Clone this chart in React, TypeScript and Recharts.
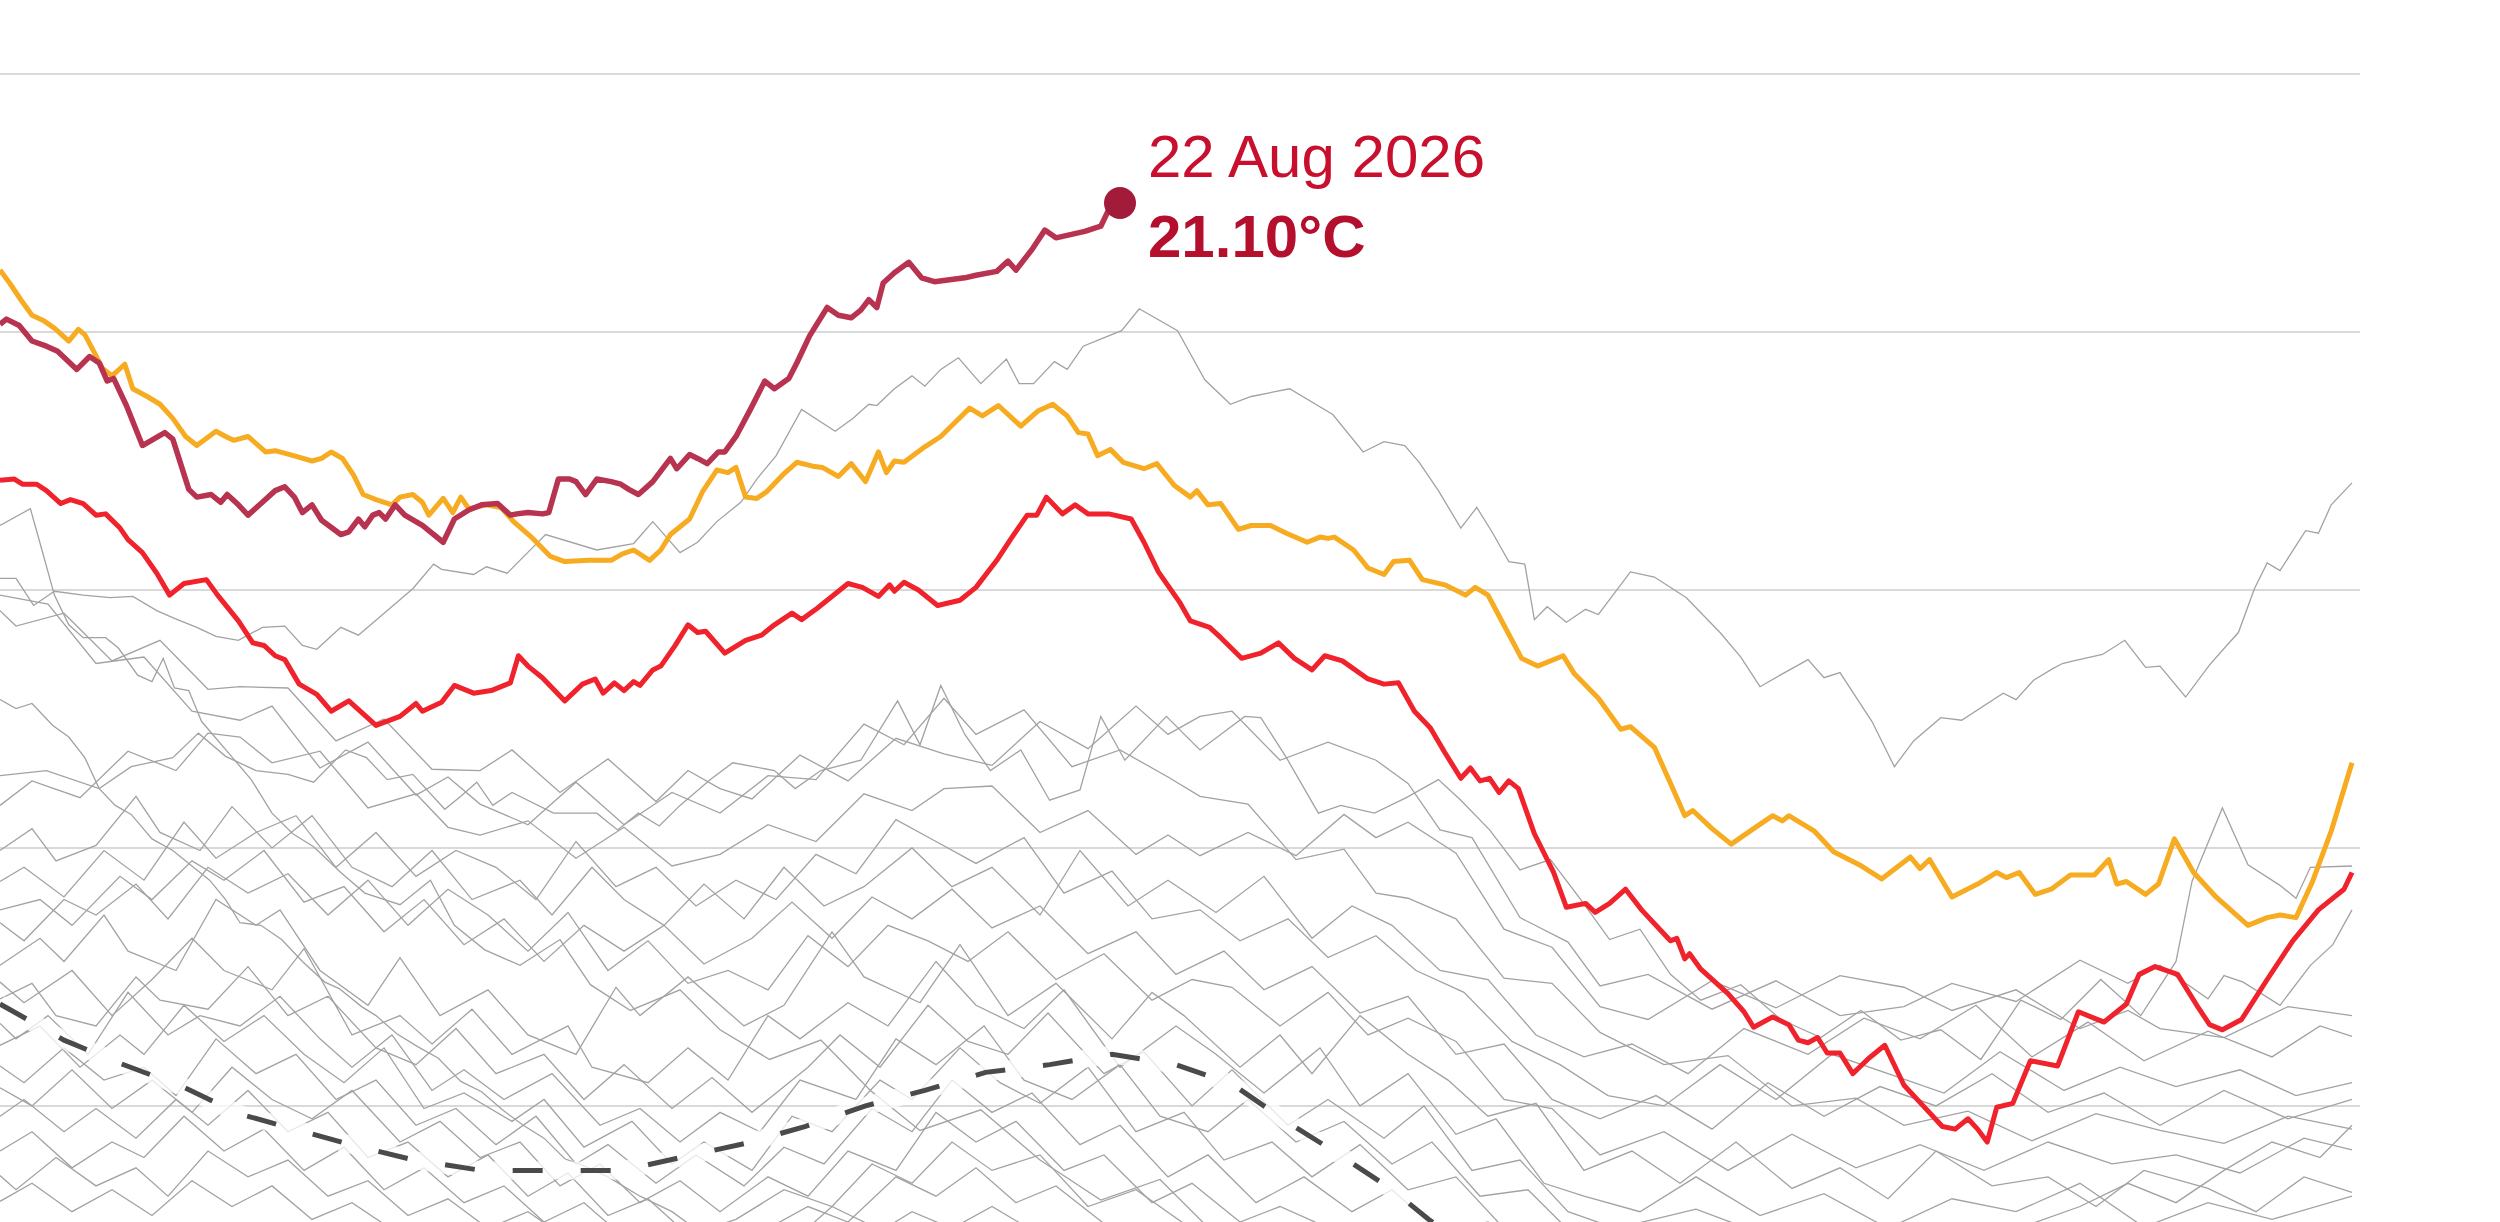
import React from 'react';
import { LineChart, Line, XAxis, YAxis, ReferenceLine } from 'recharts';

type P = [number, number];

// x = day index in the visible window, y = temperature (°C)
const gridValues = [20.4, 20.6, 20.8, 21.0, 21.2];
const lastDateLabel = '22 Aug 2026';
const lastValueLabel = '21.10°C';

const year2026: P[] = [[0,21.006],[0.4,21.010],[1.2,21.005],[2,20.993],[2.9,20.989],[3.6,20.985],[4.8,20.971],[5.6,20.981],[6.2,20.976],[6.7,20.962],[7.1,20.964],[7.9,20.943],[8.9,20.912],[9.6,20.917],[10.3,20.922],[10.8,20.917],[11.8,20.878],[12.3,20.872],[13.2,20.874],[13.8,20.868],[14.2,20.874],[14.9,20.866],[15.5,20.858],[16.4,20.868],[17.2,20.877],[17.8,20.880],[18.4,20.872],[18.9,20.860],[19.5,20.866],[20.1,20.854],[21.3,20.843],[21.8,20.845],[22.4,20.855],[22.8,20.849],[23.3,20.858],[23.7,20.860],[24.1,20.855],[24.7,20.866],[25.3,20.858],[26.4,20.850],[27.7,20.837],[28.4,20.855],[29.3,20.862],[30.1,20.866],[31.1,20.867],[31.9,20.858],[32.3,20.859],[33,20.860],[33.9,20.859],[34.3,20.860],[34.9,20.886],[35.6,20.886],[36,20.884],[36.6,20.874],[37.3,20.886],[38.2,20.884],[38.8,20.882],[39.3,20.878],[39.9,20.874],[40.8,20.884],[41.9,20.902],[42.3,20.894],[43.1,20.905],[43.6,20.902],[44.2,20.898],[44.9,20.907],[45.3,20.907],[46,20.919],[46.9,20.940],[47.8,20.962],[48.4,20.956],[49.3,20.964],[49.8,20.976],[50.6,20.997],[51.7,21.019],[52.4,21.013],[53.2,21.011],[53.8,21.017],[54.3,21.025],[54.8,21.019],[55.2,21.038],[55.9,21.046],[56.8,21.054],[57.6,21.042],[58.4,21.039],[60.3,21.042],[61,21.044],[62.3,21.047],[63,21.055],[63.5,21.048],[64.5,21.064],[65.3,21.079],[66,21.073],[67.8,21.078],[68.8,21.082],[69.3,21.095],[70,21.100]];

const year2024: P[] = [[0,21.048],[0.6,21.038],[1.3,21.025],[2,21.013],[2.7,21.009],[3.4,21.003],[4.3,20.993],[4.9,21.002],[5.3,20.998],[5.9,20.984],[6.4,20.972],[7,20.966],[7.8,20.975],[8.3,20.956],[9.2,20.950],[10,20.944],[10.8,20.933],[11.6,20.919],[12.3,20.912],[13.5,20.923],[14.1,20.919],[14.6,20.916],[15.5,20.919],[16.6,20.907],[17.2,20.908],[18.4,20.904],[19.5,20.900],[20.1,20.902],[20.7,20.907],[21.4,20.902],[22.1,20.889],[22.7,20.874],[23.5,20.870],[24.5,20.866],[25,20.872],[25.8,20.874],[26.4,20.868],[26.8,20.858],[27.7,20.871],[28.3,20.860],[28.8,20.872],[29.3,20.863],[30.4,20.866],[31.3,20.864],[32.1,20.853],[33.3,20.840],[34.4,20.826],[35.3,20.822],[36.8,20.823],[38.2,20.823],[38.9,20.828],[39.6,20.831],[40.6,20.823],[41.3,20.831],[41.9,20.843],[43.1,20.855],[43.9,20.876],[44.8,20.893],[45.5,20.891],[46,20.895],[46.6,20.872],[47.3,20.871],[47.9,20.876],[48.9,20.889],[49.8,20.899],[50.8,20.896],[51.4,20.895],[52.4,20.888],[53.2,20.898],[54.1,20.884],[54.9,20.907],[55.4,20.891],[55.9,20.900],[56.5,20.899],[57.8,20.911],[58.8,20.919],[59.7,20.930],[60.6,20.941],[61.4,20.935],[62.4,20.943],[63.8,20.927],[64.9,20.939],[65.8,20.944],[66.7,20.935],[67.4,20.922],[68,20.921],[68.6,20.904],[69.4,20.909],[70.2,20.899],[71.5,20.894],[72.3,20.898],[73.4,20.881],[74.4,20.872],[74.8,20.877],[75.5,20.866],[76.3,20.867],[77.4,20.847],[78.2,20.850],[79.4,20.850],[80.4,20.844],[81.7,20.837],[82.5,20.841],[83,20.840],[83.4,20.841],[84.6,20.831],[85.5,20.817],[86.5,20.812],[87.1,20.822],[88.1,20.823],[88.9,20.808],[90.3,20.804],[91.6,20.796],[92.2,20.802],[93,20.796],[93.9,20.775],[95.1,20.747],[96.1,20.741],[97.7,20.749],[98.4,20.735],[99.9,20.716],[101.3,20.692],[101.9,20.694],[103.4,20.678],[104.3,20.653],[105.3,20.625],[105.8,20.629],[107,20.615],[108.2,20.603],[109.6,20.615],[110.8,20.625],[111.4,20.621],[111.8,20.625],[113.4,20.613],[114.6,20.597],[116.2,20.587],[117.6,20.576],[119.4,20.593],[120,20.584],[120.6,20.591],[122,20.562],[123.6,20.572],[124.8,20.581],[125.4,20.577],[126.2,20.581],[127.2,20.564],[128.2,20.568],[129.4,20.579],[130.9,20.579],[131.8,20.591],[132.3,20.572],[132.9,20.574],[134.1,20.564],[134.9,20.572],[135.9,20.607],[137.1,20.581],[138.5,20.562],[140.5,20.540],[141.7,20.546],[142.5,20.548],[143.5,20.546],[144.5,20.573],[145.7,20.613],[147,20.666]];

const year2025: P[] = [[0,20.885],[0.9,20.886],[1.4,20.882],[2.3,20.882],[2.9,20.877],[3.8,20.867],[4.4,20.870],[5.2,20.867],[6,20.858],[6.6,20.859],[7.5,20.848],[8,20.839],[8.9,20.829],[9.8,20.813],[10.6,20.796],[11.5,20.805],[12.9,20.808],[13.6,20.796],[14.9,20.776],[15.8,20.759],[16.5,20.757],[17.2,20.749],[17.8,20.746],[18.7,20.727],[19.8,20.719],[20.7,20.706],[21.8,20.714],[23.5,20.695],[25,20.702],[26,20.712],[26.4,20.706],[27.6,20.713],[28.4,20.726],[29.6,20.720],[30.7,20.722],[31.9,20.728],[32.4,20.749],[33,20.741],[33.9,20.732],[35.3,20.714],[36.4,20.727],[37.2,20.731],[37.7,20.720],[38.4,20.728],[39,20.722],[39.6,20.729],[40,20.726],[40.8,20.738],[41.3,20.741],[42.2,20.757],[43,20.773],[43.6,20.767],[44.1,20.768],[45.3,20.751],[46.6,20.761],[47.6,20.765],[48.4,20.773],[49.5,20.782],[50.1,20.777],[51.1,20.786],[53,20.805],[53.9,20.802],[54.9,20.795],[55.6,20.804],[55.9,20.799],[56.5,20.806],[57.4,20.800],[58.6,20.788],[60,20.792],[61,20.802],[62.3,20.823],[63.2,20.840],[64.2,20.858],[64.8,20.858],[65.4,20.872],[66.4,20.859],[67.2,20.866],[68,20.859],[69.3,20.859],[70.7,20.855],[71.5,20.837],[72.4,20.814],[73.7,20.791],[74.4,20.776],[75.6,20.771],[76.3,20.763],[77.6,20.747],[78.8,20.751],[79.9,20.759],[80.9,20.747],[82,20.738],[82.8,20.749],[83.9,20.745],[85.5,20.731],[86.5,20.727],[87.4,20.728],[88.4,20.706],[89.4,20.693],[90.3,20.674],[91.3,20.654],[91.9,20.662],[92.5,20.652],[93.1,20.654],[93.7,20.643],[94.3,20.652],[94.9,20.646],[95.9,20.611],[97.1,20.581],[97.9,20.554],[99.1,20.557],[99.7,20.550],[100.6,20.557],[101.6,20.568],[102.6,20.552],[103.8,20.536],[104.4,20.528],[104.8,20.530],[105.3,20.514],[105.6,20.518],[106.3,20.506],[108,20.487],[109,20.473],[109.6,20.461],[110.8,20.469],[111.8,20.463],[112.4,20.451],[113,20.449],[113.6,20.453],[114.2,20.441],[115,20.441],[115.8,20.425],[116.8,20.437],[117.8,20.447],[119,20.416],[120.2,20.400],[121.4,20.384],[122.2,20.382],[123,20.390],[123.6,20.382],[124.2,20.372],[124.8,20.399],[125.8,20.402],[126.9,20.435],[128.6,20.431],[129.9,20.473],[131.5,20.465],[132.9,20.479],[133.7,20.502],[134.7,20.508],[136.1,20.502],[137.3,20.478],[138.1,20.463],[138.9,20.459],[140.1,20.467],[141.7,20.498],[143.3,20.528],[144.9,20.552],[146.5,20.568],[147,20.581]];

const climateMean: P[] = [[0,20.479],[4,20.451],[7.5,20.433],[11.4,20.415],[14.9,20.394],[18.4,20.382],[21.9,20.370],[25.9,20.358],[30.1,20.350],[34.4,20.350],[38.9,20.350],[42.9,20.361],[46.6,20.371],[50.3,20.384],[54.1,20.400],[57.8,20.412],[61.6,20.426],[65.6,20.432],[69.5,20.440],[73.5,20.432],[77,20.417],[80.4,20.388],[83.6,20.363],[86.9,20.336],[89.3,20.312],[92.5,20.284],[96.3,20.257]];

const past01: P[] = [[0,20.809],[1,20.809],[2.1,20.788],[3.4,20.799],[5.2,20.796],[6.9,20.794],[8.3,20.795],[9.8,20.784],[10.9,20.778],[12.3,20.771],[13.5,20.764],[14.9,20.761],[16.4,20.771],[17.8,20.772],[18.9,20.757],[19.8,20.754],[21.3,20.771],[22.4,20.765],[25.8,20.801],[27.1,20.820],[27.6,20.816],[29.6,20.812],[30.4,20.818],[31.7,20.813],[33.3,20.833],[34.1,20.843],[37.3,20.831],[39.6,20.836],[40.8,20.853],[42.5,20.829],[43.6,20.837],[44.8,20.853],[46.3,20.868],[47.3,20.886],[48.5,20.904],[50.1,20.940],[52.2,20.923],[53.3,20.933],[54.3,20.944],[54.8,20.943],[55.9,20.956],[57,20.966],[57.8,20.958],[58.8,20.971],[59.9,20.980],[61.3,20.960],[62.9,20.979],[63.7,20.960],[64.6,20.960],[65.9,20.977],[66.7,20.971],[67.7,20.989],[68.9,20.995],[70.1,21.001],[71.2,21.018],[73.6,21.001],[75.3,20.963],[76.9,20.944],[78.2,20.950],[80.6,20.956],[83.3,20.936],[85.2,20.907],[86.5,20.915],[87.8,20.912],[88.7,20.899],[89.9,20.877],[91.3,20.848],[92.3,20.864],[93.3,20.844],[94.3,20.822],[95.3,20.820],[95.9,20.777],[96.7,20.787],[97.9,20.775],[99.1,20.785],[99.9,20.781],[101.9,20.814],[103.4,20.810],[105.4,20.794],[107.5,20.767],[108.8,20.748],[110,20.725],[111.4,20.735],[113,20.746],[114,20.732],[115,20.736],[117,20.698],[118.4,20.663],[119.6,20.683],[121.3,20.701],[122.6,20.699],[125.2,20.720],[126,20.715],[127.1,20.730],[128.3,20.739],[128.9,20.743],[129.6,20.745],[131.4,20.750],[132.8,20.761],[134.1,20.740],[135,20.741],[136.6,20.717],[138.1,20.742],[139.1,20.756],[139.9,20.767],[140.9,20.801],[141.7,20.821],[142.5,20.815],[144.1,20.846],[144.9,20.844],[145.7,20.866],[147,20.883]];
const past02: P[] = [[0,20.850],[1.9,20.863],[2.6,20.832],[3.4,20.796],[4.3,20.773],[5.2,20.763],[6.6,20.763],[7.4,20.755],[8.6,20.734],[9.5,20.729],[10.2,20.747],[10.9,20.724],[11.8,20.722],[12.6,20.698],[14.4,20.672],[15.7,20.653],[17,20.627],[18.3,20.611],[19.6,20.601],[21.3,20.581],[22.8,20.565],[25,20.556],[26.9,20.575],[28.4,20.540],[30.3,20.521],[32.5,20.509],[35,20.529],[36.9,20.494],[39.4,20.474],[42.5,20.490],[45,20.459],[48.1,20.436],[51.3,20.451],[54.4,20.412],[57.5,20.381],[61.3,20.397],[65,20.358],[68.8,20.327],[72.5,20.343],[76.3,20.296]];
const past03: P[] = [[0,20.796],[3,20.789],[6,20.743],[9,20.748],[12,20.706],[15,20.699],[17,20.710],[20,20.662],[23,20.682],[26,20.641],[28,20.655],[30,20.634],[33,20.618],[36,20.651],[39,20.618],[42,20.643],[45,20.627],[48,20.656],[51,20.653],[54,20.696],[56.5,20.680],[59,20.716],[61,20.688],[64,20.707],[67,20.663],[70,20.676],[73,20.655],[75,20.640],[78,20.634],[81,20.591],[84,20.599],[86,20.565],[88,20.561],[91,20.545],[94,20.499],[97,20.495],[100,20.457],[104,20.432],[108,20.439],[112,20.400],[116,20.406],[119,20.385],[123,20.396],[127,20.373],[131,20.394],[135,20.381],[139,20.371],[143,20.392],[147,20.382]];
const past04: P[] = [[0,20.656],[2.9,20.660],[6.2,20.646],[8.2,20.663],[10.8,20.670],[12.4,20.689],[14.1,20.671],[16,20.660],[18,20.657],[19.6,20.651],[21.6,20.676],[22.9,20.670],[24.2,20.653],[25.8,20.657],[27.8,20.630],[28.8,20.640],[29.8,20.651],[30.8,20.633],[32,20.643],[34.6,20.627],[37.3,20.627],[38.6,20.614],[39.9,20.627],[41.2,20.617],[42.5,20.633],[44.4,20.653],[45.8,20.666],[47.1,20.663],[48.4,20.660],[49.7,20.646],[51.3,20.660],[53.8,20.668],[56.1,20.714],[57.5,20.680],[58.8,20.726],[60.3,20.688],[61.9,20.660],[63.8,20.676],[65.6,20.637],[67.5,20.645],[68.8,20.702],[70.3,20.668],[72.9,20.702],[75,20.676],[77.8,20.702],[78.8,20.701],[80.4,20.670],[82.4,20.627],[83.8,20.633],[85.9,20.627],[87.9,20.639],[89.9,20.653],[91.3,20.637],[93.1,20.614],[95,20.583],[96.9,20.591],[98.8,20.560],[100.6,20.529],[102.5,20.537],[104.4,20.502],[106.3,20.482],[108.8,20.494],[111.3,20.467],[113.8,20.453],[116.3,20.474],[118.8,20.451],[121.3,20.459],[123.8,20.436],[126.3,20.482],[128.8,20.467],[131.3,20.498],[133.8,20.470],[136,20.512],[137,20.574],[138.9,20.631],[140.5,20.587],[142.5,20.571],[143.5,20.561],[144.4,20.585],[147,20.586]];
const past05: P[] = [[0,20.715],[1,20.708],[2,20.712],[3.3,20.695],[4.3,20.686],[5.3,20.670],[6.2,20.646],[7.2,20.633],[8.2,20.626],[9.5,20.607],[10.8,20.598],[11.8,20.588],[13.1,20.575],[14.1,20.560],[15,20.542],[16.3,20.540],[17.6,20.529],[18.9,20.512],[20.3,20.496],[21.2,20.491],[22.6,20.477],[23.5,20.470],[24.8,20.456],[26.1,20.446],[27.4,20.437],[28.8,20.419],[30.1,20.411],[31.4,20.397],[32.7,20.385],[34,20.375],[35.3,20.359],[36.6,20.353],[38,20.345],[40,20.330],[42,20.318],[44,20.300],[47,20.285],[50,20.300],[52,20.322],[54,20.310],[57,20.290],[70,20.270],[90,20.260],[110,20.280],[125,20.300],[130,20.322],[133,20.340],[136,20.325],[139,20.350],[142,20.372],[145,20.360],[147,20.385]];
const past06: P[] = [[0,20.784],[1,20.772],[4,20.782],[7,20.745],[10,20.761],[13,20.723],[15,20.725],[18,20.724],[21,20.683],[24,20.700],[27,20.661],[30,20.660],[32,20.676],[35,20.643],[38,20.669],[41,20.636],[43,20.660],[45,20.646],[47,20.638],[50,20.672],[53,20.652],[56,20.685],[59,20.673],[62,20.664],[65,20.698],[68,20.677],[71,20.710],[73,20.688],[75,20.702],[77,20.706],[80,20.668],[83,20.682],[86,20.668],[88,20.650],[90,20.614],[92,20.608],[95,20.546],[98,20.527],[100,20.493],[103,20.502],[107,20.475],[111,20.497],[115,20.470],[119,20.477],[122,20.495],[126,20.481],[130,20.513],[133,20.495],[135,20.509],[138,20.483],[139,20.501],[140.2,20.496],[142.5,20.478],[144.4,20.509],[145.8,20.525],[147,20.552]];
const past07: P[] = [[0,20.633],[2,20.652],[5,20.639],[8,20.675],[11,20.660],[13,20.689],[15,20.686],[17,20.666],[20,20.675],[23,20.631],[26,20.642],[28,20.616],[30,20.610],[33,20.621],[36,20.592],[39,20.616],[42,20.586],[45,20.595],[48,20.618],[51,20.605],[54,20.642],[57,20.629],[59,20.646],[62,20.648],[65,20.612],[68,20.629],[71,20.595],[73,20.610],[75,20.594],[78,20.612],[81,20.594],[84,20.626],[86,20.608],[88,20.620],[91,20.596],[94,20.537],[97,20.523],[100,20.477],[103,20.467],[107,20.497],[111,20.476],[115,20.501],[119,20.492],[122,20.474],[126,20.490],[130,20.460],[133,20.474],[135,20.460],[139,20.453],[143,20.477],[147,20.470]];
const past08: P[] = [[0,20.598],[2,20.615],[3.5,20.590],[6,20.602],[8.5,20.640],[10,20.612],[12.5,20.598],[14.5,20.632],[17,20.600],[19.5,20.625],[22,20.585],[24.5,20.570],[27,20.598],[29.5,20.560],[32.5,20.575],[34.5,20.548],[37,20.585],[39,20.560],[41.5,20.540],[44,20.572],[46.5,20.545],[49,20.585],[51.5,20.555],[54,20.570],[57,20.600],[59.5,20.570],[62,20.585],[65,20.548],[67.5,20.598],[70.5,20.555],[73,20.575],[76,20.550],[79,20.578],[82,20.530],[84.5,20.555],[87,20.540],[90,20.505],[93,20.498],[96,20.455],[99,20.438],[102,20.448],[105.5,20.425],[109,20.460],[113,20.440],[116.5,20.468],[120,20.452],[123.5,20.478],[127,20.438],[130.5,20.465],[134,20.435],[138,20.458],[142,20.438],[145,20.462],[147,20.454]];
const past09: P[] = [[0,20.574],[1.5,20.585],[4,20.562],[6.5,20.598],[9,20.575],[11.5,20.620],[13.5,20.592],[16,20.612],[18.5,20.625],[21,20.585],[23.5,20.612],[26,20.578],[28.5,20.598],[31,20.585],[33.5,20.560],[36,20.605],[38.5,20.570],[41,20.585],[43.5,20.555],[46,20.575],[48.5,20.560],[51,20.595],[53.5,20.580],[56,20.622],[58.5,20.605],[61,20.588],[64,20.608],[66.5,20.565],[69.5,20.582],[72,20.545],[75,20.552],[77.5,20.528],[80.5,20.545],[83,20.515],[86,20.532],[88.5,20.505],[91.5,20.488],[94.5,20.450],[97.5,20.432],[100.5,20.408],[104,20.400],[107.5,20.432],[111,20.405],[114.5,20.440],[118,20.425],[121.5,20.410],[125,20.442],[129,20.412],[132.5,20.430],[136,20.415],[140,20.428],[143.5,20.408],[147,20.418]];
const past10: P[] = [[0,20.552],[2.5,20.560],[4.5,20.540],[7.5,20.578],[9.5,20.560],[12,20.590],[14,20.575],[16.5,20.598],[19,20.558],[21.5,20.570],[24,20.535],[26.5,20.560],[29,20.525],[31.5,20.545],[34,20.512],[36.5,20.540],[39,20.520],[41.5,20.540],[44,20.510],[47,20.530],[49.5,20.558],[52,20.530],[54.5,20.562],[57,20.545],[59.5,20.568],[62,20.538],[65,20.555],[68,20.518],[71,20.535],[73.5,20.502],[76.5,20.520],[79,20.490],[82,20.508],[85,20.472],[88,20.485],[91,20.440],[94,20.448],[97,20.405],[100,20.390],[103.5,20.408],[107,20.382],[110.5,20.418],[114,20.392],[117.5,20.415],[121,20.400],[124.5,20.425],[128,20.395],[131.5,20.410],[135,20.385],[139,20.412],[143,20.390],[147,20.405]];
const past11: P[] = [[0,20.542],[1.5,20.528],[4,20.560],[6,20.548],[8.5,20.572],[10.5,20.545],[13,20.585],[15.5,20.565],[18,20.580],[20.5,20.548],[23,20.575],[25.5,20.540],[28,20.568],[30.5,20.548],[33,20.520],[35.5,20.550],[38,20.505],[40.5,20.528],[43,20.495],[45.5,20.505],[48,20.490],[50.5,20.532],[53,20.508],[55.5,20.540],[58,20.528],[60.5,20.512],[63,20.535],[66,20.498],[69,20.518],[72,20.482],[74.5,20.498],[77,20.492],[80,20.462],[83,20.488],[85.5,20.455],[88,20.468],[91,20.450],[94,20.405],[97,20.398],[100,20.362],[104,20.380],[108,20.350],[112,20.378],[116,20.352],[120,20.370],[124,20.350],[128,20.372],[132,20.355],[136,20.362],[140,20.348],[144,20.375],[147,20.366]];
const past12: P[] = [[0,20.509],[2.5,20.530],[4,20.512],[6.5,20.548],[8,20.520],[11,20.505],[13.5,20.560],[16,20.540],[17.5,20.552],[20,20.505],[23,20.478],[25,20.515],[27.5,20.470],[30.5,20.490],[33,20.455],[36,20.440],[38.5,20.492],[40,20.470],[43,20.500],[46.5,20.462],[49,20.478],[52,20.535],[54,20.500],[57.5,20.480],[60,20.525],[63,20.470],[66,20.495],[69.5,20.452],[72,20.488],[74,20.470],[77.5,20.430],[80,20.455],[82,20.425],[85,20.470],[88,20.440],[90.5,20.420],[93,20.392],[96,20.402],[99,20.350],[102,20.365],[105,20.340],[108.5,20.372],[112,20.336],[115,20.352],[118,20.328],[121,20.365],[124.5,20.338],[128,20.345],[131,20.322],[134,20.350],[138,20.336],[141,20.318],[144,20.345],[147,20.333]];
const past13: P[] = [[0,20.496],[1.5,20.480],[4.5,20.505],[7,20.470],[9.5,20.498],[12,20.530],[14,20.505],[17,20.490],[19,20.522],[22,20.455],[25,20.470],[27,20.448],[29.5,20.475],[32,20.440],[35.5,20.462],[37,20.430],[40.5,20.418],[43,20.445],[45.5,20.420],[48,20.470],[50,20.452],[53,20.480],[55.5,20.462],[58.5,20.512],[61,20.478],[64,20.460],[66.5,20.490],[70,20.430],[73.5,20.462],[76,20.440],[79,20.410],[82.5,20.445],[85,20.400],[88,20.425],[91,20.378],[93.5,20.390],[96.5,20.340],[99,20.330],[102.5,20.318],[106,20.345],[110,20.315],[114,20.332],[118,20.305],[122,20.328],[126,20.318],[130,20.340],[134,20.306],[138,20.325],[142,20.312],[147,20.330]];
const past14: P[] = [[0,20.483],[2,20.495],[3.5,20.470],[6,20.462],[8.5,20.500],[10,20.482],[13,20.475],[15.5,20.508],[18,20.470],[20.5,20.485],[23.5,20.445],[26,20.432],[28.5,20.460],[31,20.425],[34,20.440],[36.5,20.405],[39,20.432],[42,20.398],[44.5,20.422],[47,20.395],[50.5,20.430],[52.5,20.455],[55,20.430],[58,20.478],[60.5,20.450],[63,20.440],[65.5,20.472],[69,20.425],[71.5,20.442],[74.5,20.400],[77,20.428],[80.5,20.385],[83,20.405],[86.5,20.375],[89,20.400],[92,20.350],[95,20.358],[98,20.318],[101,20.305],[106,20.320],[112,20.292],[119,20.305],[127,20.290],[135,20.302],[141,20.288],[147,20.300]];
const past15: P[] = [[0,20.464],[1,20.452],[3,20.470],[5.5,20.440],[8,20.488],[10.5,20.455],[12.5,20.470],[15,20.462],[17.5,20.485],[20,20.452],[22,20.430],[24.5,20.455],[27,20.412],[29,20.428],[31.5,20.405],[34.5,20.425],[37.5,20.385],[40,20.398],[42.5,20.372],[45,20.395],[47.5,20.380],[50,20.420],[53.5,20.405],[56,20.452],[58.5,20.432],[61.5,20.462],[64,20.420],[67,20.405],[70,20.432],[72.5,20.392],[75.5,20.380],[78,20.405],[81,20.372],[84,20.388],[87,20.355],[89.5,20.372],[92.5,20.330],[95.5,20.335],[98.5,20.298],[100,20.290],[110,20.280],[120,20.275],[135,20.285],[147,20.290]];
const past16: P[] = [[0,20.447],[2.5,20.462],[5,20.430],[7.5,20.455],[9,20.440],[11.5,20.478],[14,20.450],[16.5,20.470],[19,20.440],[21.5,20.418],[24,20.445],[26.5,20.398],[29,20.410],[32,20.388],[34,20.405],[36.5,20.368],[39.5,20.388],[42,20.355],[44,20.372],[47,20.350],[49.5,20.392],[52,20.380],[55,20.420],[57,20.405],[60,20.445],[62.5,20.418],[65,20.402],[68,20.430],[71,20.380],[74,20.395],[76.5,20.358],[79.5,20.372],[82,20.345],[85,20.370],[88,20.335],[91,20.345],[94,20.305],[97,20.300],[100,20.280],[110,20.270],[120,20.265],[135,20.275],[147,20.280]];
const past17: P[] = [[0,20.431],[1.5,20.418],[4,20.445],[6.5,20.420],[9,20.430],[11,20.408],[13.5,20.452],[16,20.425],[18.5,20.440],[21,20.405],[23.5,20.420],[26,20.385],[28.5,20.398],[31,20.370],[33.5,20.392],[36,20.355],[38,20.370],[41,20.340],[43.5,20.362],[46.5,20.338],[49,20.368],[51.5,20.355],[54.5,20.398],[57,20.380],[59.5,20.420],[62,20.395],[64.5,20.410],[67.5,20.370],[70,20.385],[73,20.345],[75.5,20.362],[78.5,20.325],[81.5,20.345],[84.5,20.318],[87,20.335],[90,20.302],[93,20.310],[97,20.285],[100,20.270],[115,20.260],[130,20.265],[147,20.270]];
const past18: P[] = [[0,20.414],[2,20.400],[4.5,20.428],[7,20.398],[9.5,20.420],[12,20.395],[14.5,20.430],[17,20.405],[19.5,20.390],[22,20.412],[25,20.372],[27.5,20.388],[30,20.360],[32.5,20.372],[35,20.338],[37.5,20.355],[40,20.325],[42.5,20.342],[45,20.318],[48,20.345],[50.5,20.330],[53,20.365],[56,20.350],[58.5,20.395],[61,20.372],[63.5,20.388],[66.5,20.350],[69,20.362],[72,20.325],[74.5,20.340],[77.5,20.310],[80,20.322],[84,20.300],[88,20.290],[95,20.270],[105,20.255],[120,20.250],[135,20.255],[147,20.260]];
const past19: P[] = [[0,20.392],[1.5,20.405],[4,20.380],[6,20.398],[8.5,20.375],[11,20.405],[13,20.385],[15.5,20.412],[18,20.380],[20.5,20.395],[23,20.360],[25.5,20.372],[28,20.345],[30.5,20.362],[33,20.330],[35.5,20.348],[38,20.315],[40.5,20.328],[43,20.300],[46,20.312],[49,20.335],[52,20.322],[54.5,20.355],[57,20.340],[59.5,20.372],[62,20.350],[65,20.362],[68,20.322],[71,20.335],[75,20.300],[80,20.290],[88,20.280],[100,20.250],[120,20.240],[135,20.245],[147,20.250]];
const past20: P[] = [[0,20.365],[2,20.380],[4.5,20.352],[7,20.372],[9,20.360],[11.5,20.392],[14,20.365],[16.5,20.382],[19,20.350],[21.5,20.368],[24,20.335],[26.5,20.352],[29,20.325],[31.5,20.338],[34,20.310],[36.5,20.325],[39,20.298],[44,20.290],[48,20.305],[50.5,20.322],[53,20.310],[56,20.345],[58.5,20.330],[61,20.352],[63.5,20.325],[66,20.338],[70,20.299],[75,20.290],[82,20.280],[90,20.270],[100,20.240],[120,20.230],[135,20.240],[147,20.240]];
const past21: P[] = [[0,20.346],[1,20.335],[3.5,20.360],[6,20.338],[8.5,20.352],[10.5,20.330],[13,20.365],[15.5,20.345],[18,20.358],[20.5,20.330],[23,20.342],[25.5,20.315],[28,20.328],[30.5,20.305],[33,20.318],[36,20.292],[42,20.278],[48,20.290],[51,20.305],[54,20.295],[57,20.318],[59.5,20.305],[62,20.322],[65,20.300],[68,20.296],[75,20.280],[90,20.260],[110,20.220],[130,20.230],[147,20.230]];
const past22: P[] = [[0,20.326],[2,20.340],[4.5,20.318],[7,20.335],[9.5,20.315],[12,20.342],[14.5,20.322],[17,20.338],[19.5,20.312],[22,20.325],[25,20.300],[30,20.290],[35,20.285],[40,20.290],[45,20.270],[52,20.285],[59,20.300],[64,20.292],[70,20.275],[90,20.250],[110,20.210],[130,20.220],[147,20.220]];

const pastYears: P[][] = [past01, past02, past03, past04, past05, past06, past07, past08, past09, past10, past11, past12, past13, past14, past15, past16, past17, past18, past19, past20, past21, past22];

const toRows = (s: P[]) => s.map(([d, v]) => ({ d, v }));

const FONT = "'Liberation Sans', Arial, Helvetica, sans-serif";

const EndMarker = (props: any) => {
  const { cx, cy, index } = props;
  if (index !== year2026.length - 1 || cx == null) return <g key={`m${index}`} />;
  return (
    <g key="end-marker">
      <circle cx={cx} cy={cy} r={16} fill="#a31b3b" />
      <text x={cx + 28} y={cy - 26} fill="#c8102e" fontSize={60} fontFamily={FONT}>{lastDateLabel}</text>
      <text x={cx + 28} y={cy + 54} fill="#b4102d" fontSize={60} fontWeight="bold" fontFamily={FONT}>{lastValueLabel}</text>
    </g>
  );
};

export default function App() {
  return (
    <div style={{ position: 'absolute', left: 0, top: 0, width: 2500, height: 1222, background: '#ffffff', overflow: 'hidden' }}>
      <LineChart width={2500} height={1222} margin={{ top: 0, right: 140, bottom: 0, left: 0 }}>
        <XAxis type="number" dataKey="d" domain={[0, 147.5]} hide allowDataOverflow />
        <YAxis type="number" dataKey="v" domain={[20.31, 21.2574]} hide allowDataOverflow />
        {gridValues.map((g) => (
          <ReferenceLine key={`grid${g}`} y={g} stroke="#d9d9d9" strokeWidth={2} ifOverflow="hidden" />
        ))}
        {pastYears.map((s, i) => (
          <Line
            key={`past${i}`}
            data={toRows(s)}
            dataKey="v"
            type="linear"
            stroke="#a2a2a2"
            strokeWidth={1.3}
            dot={false}
            activeDot={false}
            isAnimationActive={false}
          />
        ))}
        <Line data={toRows(climateMean)} dataKey="v" type="linear" stroke="#ffffff" strokeOpacity={0.75} strokeWidth={18} dot={false} activeDot={false} isAnimationActive={false} />
        <Line data={toRows(climateMean)} dataKey="v" type="linear" stroke="#4a4a4a" strokeWidth={5} strokeDasharray="30 38" dot={false} activeDot={false} isAnimationActive={false} />
        <Line data={toRows(year2025)} dataKey="v" type="linear" stroke="#f0222c" strokeWidth={5} strokeLinejoin="round" dot={false} activeDot={false} isAnimationActive={false} />
        <Line data={toRows(year2024)} dataKey="v" type="linear" stroke="#f6ab20" strokeWidth={5} strokeLinejoin="round" dot={false} activeDot={false} isAnimationActive={false} />
        <Line data={toRows(year2026)} dataKey="v" type="linear" stroke="#b7334f" strokeWidth={5.5} strokeLinejoin="round" dot={EndMarker} activeDot={false} isAnimationActive={false} />
      </LineChart>
    </div>
  );
}
